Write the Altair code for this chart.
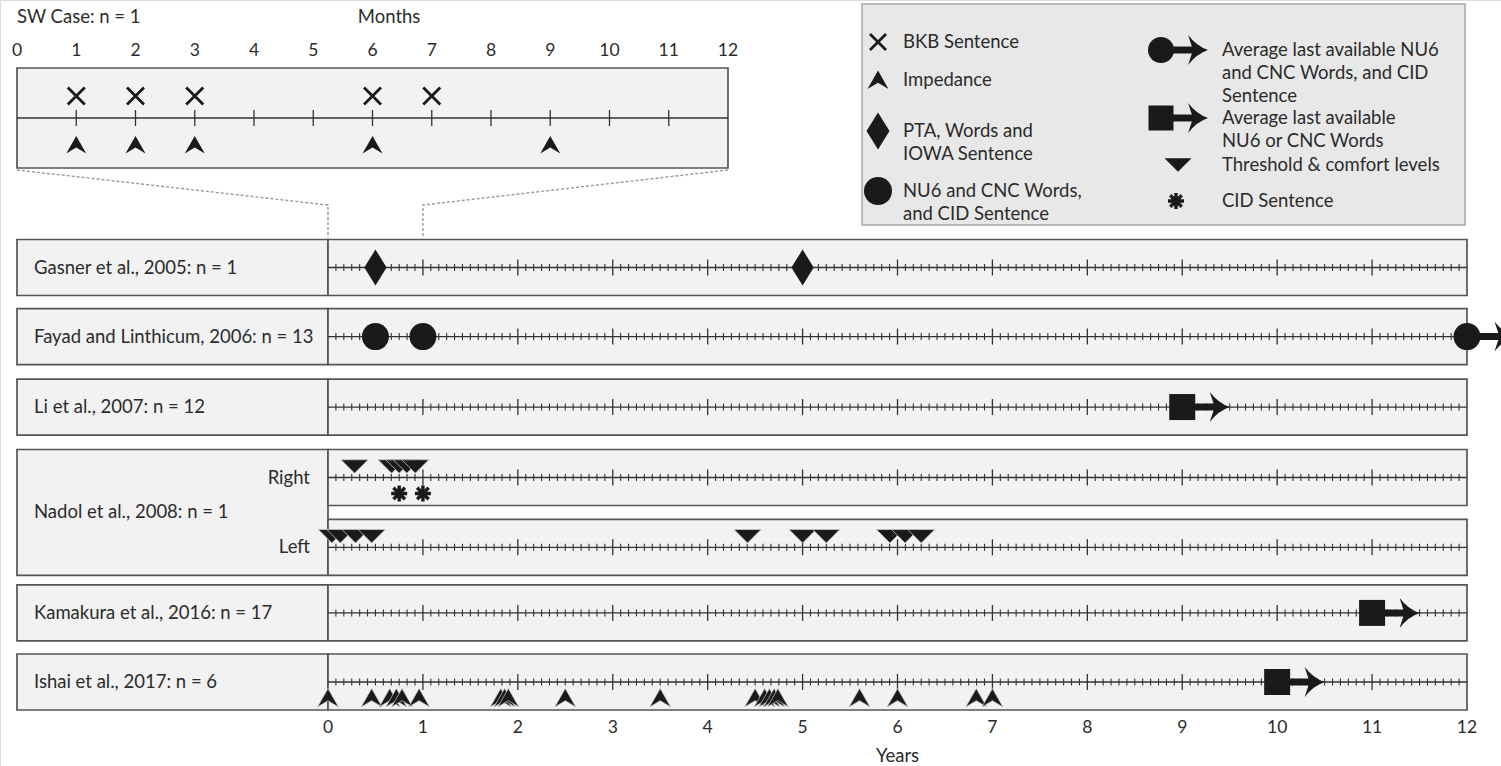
import altair as alt
import pandas as pd

# ---------------- data ----------------
row_labels = ["Gasner et al., 2005: n = 1", "Fayad and Linthicum, 2006: n = 13",
              "Li et al., 2007: n = 12", "Nadol et al., 2008: n = 1",
              "Kamakura et al., 2016: n = 17", "Ishai et al., 2017: n = 6"]
side_labels = ["Right", "Left"]

sw_bkb_months = [1, 2, 3, 6, 7]
sw_impedance_months = [1, 2, 3, 6, 9]

gasner_pta_years = [0.5, 5.0]
fayad_nu6_years = [0.5, 1.0]
fayad_last_years = [12.0]
li_last_years = [9.0]
nadol_right_threshold_years = [0.28, 0.67, 0.75, 0.83, 0.92]
nadol_right_cid_years = [0.75, 1.0]
nadol_left_threshold_years = [0.04, 0.13, 0.29, 0.46, 4.42, 5.0, 5.25, 5.92, 6.08, 6.25]
kamakura_last_years = [11.0]
ishai_last_years = [10.0]
ishai_impedance_years = [0.0, 0.46, 0.65, 0.72, 0.78, 0.96, 1.82, 1.86, 1.9, 2.5, 3.5,
                         4.5, 4.6, 4.65, 4.7, 4.74, 5.6, 6.0, 6.83, 7.0]
arrow_length_years = 0.5

year_tick_labels = [str(i) for i in range(13)]
month_tick_labels = [str(i) for i in range(13)]

legend_left = ["BKB Sentence", "Impedance", "PTA, Words and\nIOWA Sentence",
               "NU6 and CNC Words,\nand CID Sentence"]
legend_right = ["Average last available NU6\nand CNC Words, and CID\nSentence",
                "Average last available\nNU6 or CNC Words",
                "Threshold & comfort levels", "CID Sentence"]

# ---------------- layout & style ----------------
W, H = 1501, 766
FONT = "Lato"
FS = 18.5
INK = "#1a1a1a"
TXT = "#2b2b2b"
BOX_FILL = "#f2f2f2"
BOX_STROKE = "#555555"

MAIN_X = [328, 1467]          # years 0..12
LANE_PX = [267.5, 682]        # lanes 0..6
SW_X = [17, 728]              # months 0..12
SW_Y = [68, 168]              # SW panel box

lane = {"Gasner": 0, "Fayad": 1, "Li": 2.02, "NadolR": 3.04, "NadolL": 4.05,
        "Kamakura": 5, "Ishai": 6}
PX_PER_YEAR = (MAIN_X[1] - MAIN_X[0]) / 12
PX_PER_LANE = (LANE_PX[1] - LANE_PX[0]) / 6
HALF = 28 / PX_PER_LANE
LABEL_LEFT = (SW_X[0] - MAIN_X[0]) / PX_PER_YEAR

MX = alt.Scale(domain=[0, 12], range=MAIN_X)
MY = alt.Scale(domain=[0, 6], range=LANE_PX)
SX = alt.Scale(domain=[0, 12], range=SW_X)
SY = alt.Scale(domain=[-1, 1], range=SW_Y)

CARET = "M0,-0.9 L1,0.85 L0,0.25 L-1,0.85 Z"
DIAMOND = "M0,-1 L0.62,0 L0,1 L-0.62,0 Z"
TRI_DOWN = "M-1,-0.5 L1,-0.5 L0,0.5 Z"
XSHAPE = "M-1,-1 L1,1 M-1,1 L1,-1"
ASTER = "M0,-1 L0,1 M-1,0 L1,0 M-0.72,-0.72 L0.72,0.72 M-0.72,0.72 L0.72,-0.72"
HEAD = "M0,0 Q-0.75,-0.25 -1.33,-1 L-1,0 L-1.33,1 Q-0.75,0.25 0,0 Z"


def mxe(f):
    return alt.X(f"{f}:Q", scale=MX, axis=None)


def mye(f):
    return alt.Y(f"{f}:Q", scale=MY, axis=None)


def pxe(f):
    return alt.X(f"{f}:Q", scale=None, axis=None)


def pye(f):
    return alt.Y(f"{f}:Q", scale=None, axis=None)


def point_kw(shape, size, yoff=0, filled=True, stroke=None, sw=1.0):
    kw = dict(shape=shape, size=size, opacity=1, yOffset=yoff)
    if filled:
        kw.update(filled=True, fill=INK)
        if stroke:
            kw.update(stroke=stroke, strokeWidth=sw)
        else:
            kw.update(strokeWidth=0)
    else:
        kw.update(filled=False, stroke=INK, strokeWidth=sw, strokeCap="butt")
    return kw


def main_pts(years, ln, shape, size, yoff=0, filled=True, stroke=None, sw=1.0):
    df = pd.DataFrame({"t": years, "lane": [ln] * len(years)})
    return alt.Chart(df).mark_point(**point_kw(shape, size, yoff, filled, stroke, sw)).encode(
        x=mxe("t"), y=mye("lane"))


def main_arrow(starts, ln, base_shape, base_size):
    df = pd.DataFrame({"t": starts, "lane": [ln] * len(starts)})
    df["tip"] = df["t"] + arrow_length_years
    df["shaft_end"] = df["tip"] - 0.12
    shaft = alt.Chart(df).mark_rule(color=INK, strokeWidth=7, strokeCap="butt").encode(
        x=mxe("t"), x2="shaft_end:Q", y=mye("lane"))
    head = alt.Chart(df).mark_point(**point_kw(HEAD, 900)).encode(x=mxe("tip"), y=mye("lane"))
    base = alt.Chart(df).mark_point(**point_kw(base_shape, base_size)).encode(x=mxe("t"), y=mye("lane"))
    return [shaft, head, base]


layers = []

# ---- row boxes ----
box_rows = []
for key in ["Gasner", "Fayad", "Li", "Kamakura", "Ishai"]:
    box_rows.append({"x0": LABEL_LEFT, "x1": 0, "y0": lane[key] - HALF, "y1": lane[key] + HALF})
box_rows.append({"x0": LABEL_LEFT, "x1": 0, "y0": lane["NadolR"] - HALF, "y1": lane["NadolL"] + HALF})
for key in lane:
    box_rows.append({"x0": 0, "x1": 12, "y0": lane[key] - HALF, "y1": lane[key] + HALF})
layers.append(alt.Chart(pd.DataFrame(box_rows)).mark_rect(
    fill=BOX_FILL, stroke=BOX_STROKE, strokeWidth=1.7).encode(
    x=mxe("x0"), x2="x1:Q", y=mye("y0"), y2="y1:Q"))

# ---- base lines and ticks ----
base_df = pd.DataFrame({"x0": 0, "x1": 12, "lane": list(lane.values())})
layers.append(alt.Chart(base_df).mark_rule(color="#333333", strokeWidth=1.3).encode(
    x=mxe("x0"), x2="x1:Q", y=mye("lane")))
minor = pd.DataFrame([{"t": k / 12, "lane": l} for l in lane.values()
                      for k in range(1, 144) if k % 12])
major = pd.DataFrame([{"t": yv, "lane": l} for l in lane.values() for yv in range(1, 12)])
layers.append(alt.Chart(minor).mark_tick(orient="vertical", size=7, thickness=1.1,
                                         color="#333333", opacity=1).encode(x=mxe("t"), y=mye("lane")))
layers.append(alt.Chart(major).mark_tick(orient="vertical", size=16, thickness=1.3,
                                         color="#333333", opacity=1).encode(x=mxe("t"), y=mye("lane")))

# ---- row labels ----
lab_df = pd.DataFrame({
    "label": row_labels,
    "x": LABEL_LEFT,
    "lane": [lane["Gasner"], lane["Fayad"], lane["Li"], (lane["NadolR"] + lane["NadolL"]) / 2,
             lane["Kamakura"], lane["Ishai"]]})
layers.append(alt.Chart(lab_df).mark_text(align="left", baseline="middle", dx=17, fontSize=FS,
                                          color=TXT).encode(x=mxe("x"), y=mye("lane"), text="label:N"))
side_df = pd.DataFrame({"label": side_labels, "x": 0, "lane": [lane["NadolR"], lane["NadolL"]]})
layers.append(alt.Chart(side_df).mark_text(align="right", baseline="middle", dx=-18, fontSize=FS,
                                           color=TXT).encode(x=mxe("x"), y=mye("lane"), text="label:N"))

# ---- year axis labels ----
yt_df = pd.DataFrame({"label": year_tick_labels, "t": range(13), "lane": lane["Ishai"]})
layers.append(alt.Chart(yt_df).mark_text(align="center", baseline="middle", dy=46, fontSize=17.5,
                                         color=TXT).encode(x=mxe("t"), y=mye("lane"), text="label:N"))
layers.append(alt.Chart(pd.DataFrame({"label": ["Years"], "t": [6], "lane": [lane["Ishai"]]})).mark_text(
    align="center", baseline="middle", dy=74, fontSize=FS, color=TXT).encode(
    x=mxe("t"), y=mye("lane"), text="label:N"))

# ---- markers ----
layers.append(main_pts(gasner_pta_years, lane["Gasner"], DIAMOND, 1296))
layers.append(main_pts(fayad_nu6_years, lane["Fayad"], "circle", 729))
layers += main_arrow(fayad_last_years, lane["Fayad"], "circle", 729)
layers += main_arrow(li_last_years, lane["Li"], "square", 676)
layers.append(main_pts(nadol_right_threshold_years, lane["NadolR"], TRI_DOWN, 729, yoff=-11,
                       stroke="#c8c8c8", sw=0.8))
layers.append(main_pts(nadol_right_cid_years, lane["NadolR"], ASTER, 256, yoff=16, filled=False, sw=3.4))
layers.append(main_pts(nadol_left_threshold_years, lane["NadolL"], TRI_DOWN, 729, yoff=-11,
                       stroke="#c8c8c8", sw=0.8))
layers += main_arrow(kamakura_last_years, lane["Kamakura"], "square", 676)
layers += main_arrow(ishai_last_years, lane["Ishai"], "square", 676)
layers.append(main_pts(ishai_impedance_years, lane["Ishai"], CARET, 441, yoff=16,
                       stroke="#c8c8c8", sw=0.7))

# ---- SW case panel (months) ----
def sxe(f):
    return alt.X(f"{f}:Q", scale=SX, axis=None)


def sye(f):
    return alt.Y(f"{f}:Q", scale=SY, axis=None)


layers.append(alt.Chart(pd.DataFrame({"x0": [0], "x1": [12], "y0": [-1], "y1": [1]})).mark_rect(
    fill=BOX_FILL, stroke=BOX_STROKE, strokeWidth=1.7).encode(x=sxe("x0"), x2="x1:Q", y=sye("y0"), y2="y1:Q"))
layers.append(alt.Chart(pd.DataFrame({"x0": [0], "x1": [12], "y": [0]})).mark_rule(
    color="#333333", strokeWidth=1.3).encode(x=sxe("x0"), x2="x1:Q", y=sye("y")))
layers.append(alt.Chart(pd.DataFrame({"m": range(1, 12), "y": 0})).mark_tick(
    orient="vertical", size=16, thickness=1.3, color="#333333", opacity=1).encode(x=sxe("m"), y=sye("y")))
layers.append(alt.Chart(pd.DataFrame({"m": sw_bkb_months, "y": 0})).mark_point(
    **point_kw(XSHAPE, 289, yoff=-22, filled=False, sw=2.8)).encode(x=sxe("m"), y=sye("y")))
layers.append(alt.Chart(pd.DataFrame({"m": sw_impedance_months, "y": 0})).mark_point(
    **point_kw(CARET, 400, yoff=27)).encode(x=sxe("m"), y=sye("y")))
layers.append(alt.Chart(pd.DataFrame({"label": month_tick_labels, "m": range(13), "y": -1})).mark_text(
    align="center", baseline="middle", dy=-17, fontSize=17.5, color=TXT).encode(
    x=sxe("m"), y=sye("y"), text="label:N"))
layers.append(alt.Chart(pd.DataFrame({"label": ["SW Case: n = 1"], "m": [0], "y": [-1]})).mark_text(
    align="left", baseline="middle", dy=-51, fontSize=FS, color=TXT).encode(
    x=sxe("m"), y=sye("y"), text="label:N"))
layers.append(alt.Chart(pd.DataFrame({"label": ["Months"], "m": [6.28], "y": [-1]})).mark_text(
    align="center", baseline="middle", dy=-51, fontSize=FS, color=TXT).encode(
    x=sxe("m"), y=sye("y"), text="label:N"))

# ---- dashed zoom connectors (pixel positions derived from both scales) ----
def main_px(yr):
    return MAIN_X[0] + yr * PX_PER_YEAR


conn = pd.DataFrame([
    {"g": "a", "o": 0, "x": SW_X[0], "y": SW_Y[1] + 2},
    {"g": "a", "o": 1, "x": main_px(0), "y": 205},
    {"g": "a", "o": 2, "x": main_px(0), "y": LANE_PX[0] - 30},
    {"g": "b", "o": 0, "x": SW_X[1], "y": SW_Y[1] + 2},
    {"g": "b", "o": 1, "x": main_px(1), "y": 205},
    {"g": "b", "o": 2, "x": main_px(1), "y": LANE_PX[0] - 30},
])
layers.append(alt.Chart(conn).mark_line(color="#9a9a9a", strokeWidth=1.4, strokeDash=[3, 2]).encode(
    x=pxe("x"), y=pye("y"), detail="g:N", order="o:Q"))

# ---- legend ----
LEG = {"x0": 862, "x1": 1465, "y0": 4, "y1": 225}
layers.append(alt.Chart(pd.DataFrame([LEG])).mark_rect(fill="#e8e8e8", stroke="#a8a8a8", strokeWidth=1.5).encode(
    x=pxe("x0"), x2="x1:Q", y=pye("y0"), y2="y1:Q"))

L_SYM, L_TXT = 878, 903
R_SYM, R_TXT = 1161, 1222
left_rows_y = [42, 80, 131, 191]
right_rows_y = [50, 118, 165, 201]

leg_text = pd.DataFrame({"label": legend_left + legend_right,
                         "x": [L_TXT] * 4 + [R_TXT] * 4,
                         "y": left_rows_y + right_rows_y})
layers.append(alt.Chart(leg_text).mark_text(align="left", baseline="middle", fontSize=FS, color=TXT,
                                            lineBreak="\n", lineHeight=23).encode(
    x=pxe("x"), y=pye("y"), text="label:N"))


def leg_pt(x, y, shape, size, filled=True, sw=1.0):
    return alt.Chart(pd.DataFrame({"x": [x], "y": [y]})).mark_point(
        **point_kw(shape, size, 0, filled, None, sw)).encode(x=pxe("x"), y=pye("y"))


layers.append(leg_pt(L_SYM, left_rows_y[0], XSHAPE, 256, filled=False, sw=2.8))
layers.append(leg_pt(L_SYM, left_rows_y[1], CARET, 441))
layers.append(leg_pt(L_SYM, left_rows_y[2], DIAMOND, 1369))
layers.append(leg_pt(L_SYM, left_rows_y[3], "circle", 784))
for (yy, shp, sz) in [(right_rows_y[0], "circle", 676), (right_rows_y[1], "square", 625)]:
    layers.append(alt.Chart(pd.DataFrame({"x": [R_SYM], "x2": [R_SYM + 36], "y": [yy]})).mark_rule(
        color=INK, strokeWidth=7, strokeCap="butt").encode(x=pxe("x"), x2="x2:Q", y=pye("y")))
    layers.append(leg_pt(R_SYM + 47, yy, HEAD, 900))
    layers.append(leg_pt(R_SYM, yy, shp, sz))
layers.append(leg_pt(1178, right_rows_y[2], TRI_DOWN, 729))
layers.append(leg_pt(1176, right_rows_y[3], ASTER, 256, filled=False, sw=3.4))

chart = alt.layer(*layers).resolve_scale(x="independent", y="independent").properties(
    width=W, height=H, autosize=alt.AutoSizeParams(type="none"), padding=0,
    background="white").configure_view(stroke=None).configure(font=FONT)

chart.save("out.html", embed_options={"renderer": "svg", "actions": False})
